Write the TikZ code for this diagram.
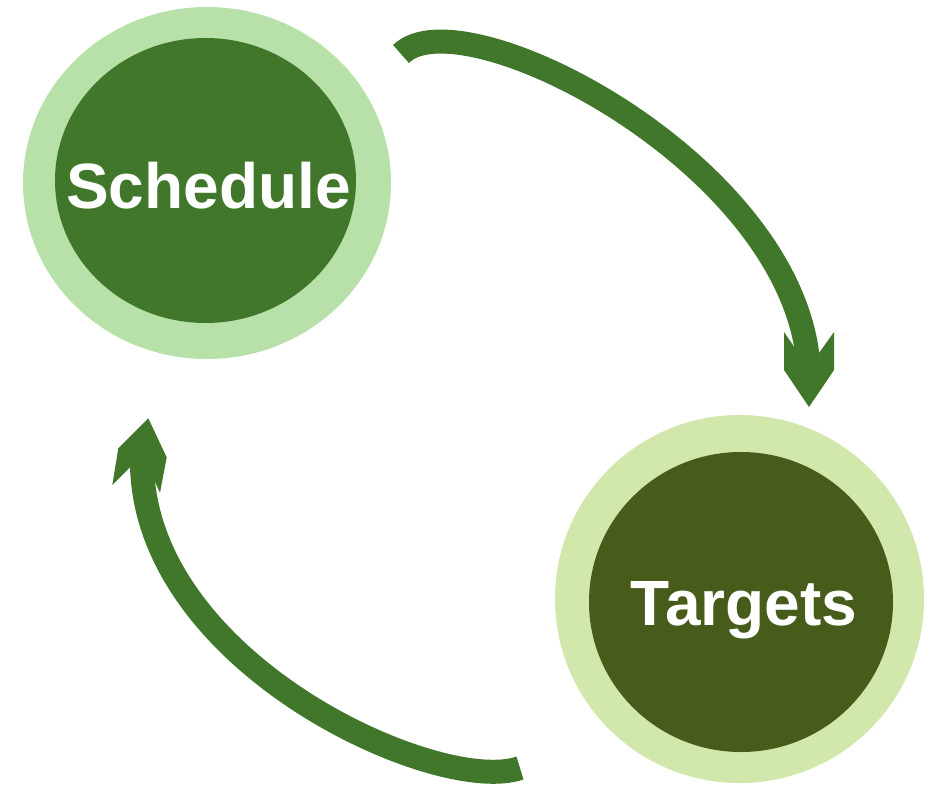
\documentclass[tikz,border=0pt]{standalone}
\usepackage{fontspec}
\setmainfont{Liberation Sans}
\usetikzlibrary{shapes.geometric}
\definecolor{schOuter}{HTML}{B7E1A9}
\definecolor{schInner}{HTML}{41772B}
\definecolor{tgtOuter}{HTML}{D1E7AB}
\definecolor{tgtInner}{HTML}{475B1A}
\definecolor{arrowgreen}{HTML}{41772B}
\begin{document}
\begin{tikzpicture}[x=1pt,y=-1pt,
  ring/.style={ellipse, inner sep=0pt, draw=none},
  lbl/.style={text=white, font=\fontsize{64}{70}\selectfont\bfseries, inner sep=0pt},
  shaft/.style={draw=arrowgreen, line width=24pt},
  headfill/.style={fill=arrowgreen}]
\useasboundingbox (0,0) rectangle (934,796);
% Schedule
\node[ring, fill=schOuter, minimum width=368pt, minimum height=352pt] (schO) at (207,183) {};
\node[ring, fill=schInner, minimum width=301pt, minimum height=285pt] (schI) at (205.5,180.5) {};
\node[lbl, anchor=base] (schT) at (208.5,208) {Schedule};
% Targets
\node[ring, fill=tgtOuter, minimum width=369pt, minimum height=368pt] (tgtO) at (739.5,599) {};
\node[ring, fill=tgtInner, minimum width=304pt, minimum height=300pt] (tgtI) at (741,602) {};
\node[lbl, anchor=base] (tgtT) at (744,625) {Targets};
% top arrow
\coordinate (a1s) at (401,54);
\coordinate (a1e) at (808,360);
\draw[shaft] (a1s) .. controls (461,-6) and (788,160) .. (a1e);
\fill[headfill] (797,351) -- (784,332) -- (784,370) -- (809,407) -- (834,370) -- (834,332) -- (819,353) -- cycle;
% bottom arrow
\coordinate (a2s) at (520,768);
\coordinate (a2e) at (142,466);
\draw[shaft] (a2s) .. controls (440,796) and (147,666) .. (a2e);
\fill[headfill] (130.7,466.7) -- (112.3,485) -- (118.3,448.3) -- (148.3,418.3) -- (166.7,457.3) -- (160,492.7) -- (151.7,475) -- cycle;
\end{tikzpicture}
\end{document}
